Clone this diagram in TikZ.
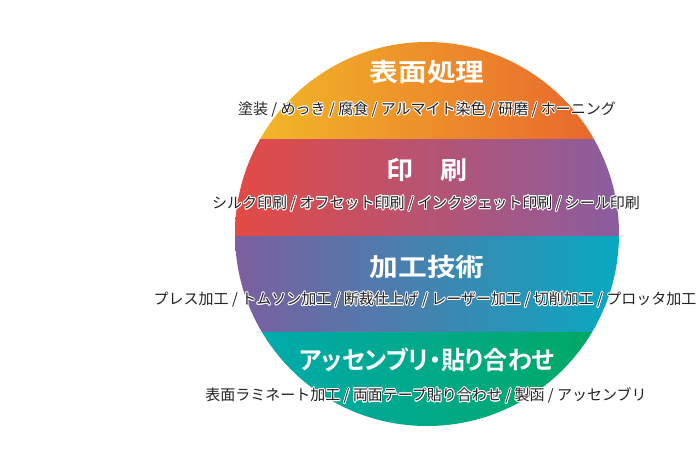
\documentclass[tikz,border=0pt]{standalone}
\usepackage{graphicx}
\usepackage{fontspec}
\usepackage{contour}
\newfontfamily\jpfont{Noto Sans CJK JP}
\newfontfamily\jptitle{Noto Sans CJK JP Bold}[RawFeature=+palt]
\contourlength{0.8pt}
\contournumber{16}

\definecolor{surfL}{HTML}{F2BC26}
\definecolor{surfR}{HTML}{E8622E}
\definecolor{prntL}{HTML}{E34A45}
\definecolor{prntM}{HTML}{C43B88}
\definecolor{prntR}{HTML}{8A5DA0}
\definecolor{procL}{HTML}{7D5E9F}
\definecolor{procR}{HTML}{08A9C1}
\definecolor{asmbL}{HTML}{02AAB2}
\definecolor{asmbR}{HTML}{00A85E}
\definecolor{itemgray}{HTML}{222222}

\begin{document}
\begin{tikzpicture}[
		x=1pt, y=-1pt,
		every node/.style={inner sep=0pt},
		title/.style={text=white, font=\jptitle\fontsize{25}{25}\selectfont},
		items/.style={text=itemgray, font=\jpfont\fontsize{15}{15}\selectfont}
	]
  \useasboundingbox (0,0) rectangle (700,467);
  \coordinate (ctr) at (427,234);
  \begin{scope}
    \clip (ctr) circle (192pt);
    \shade [left color=surfL, right color=surfR] (235,40) rectangle (619,139);
    \shade [left color=prntL, middle color=prntM, right color=prntR] (235,139) rectangle (619,236);
    \shade [left color=procL, right color=procR] (235,236) rectangle (619,332);
    \shade [left color=asmbL, right color=asmbR] (235,332) rectangle (619,428);
  \end{scope}
  \node (surf_t) [title] at (427,72) {\scalebox{1.15}[1]{表面処理}};
  \node (surf_i) [items] at (427,110) {\contour{white}{塗装 / めっき / 腐食 / アルマイト染色 / 研磨 / ホーニング}};
  \node (prnt_t) [title] at (427,170) {\scalebox{1.08}[1]{印　刷}};
  \node (prnt_i) [items] at (426,204) {\contour{white}{シルク印刷 / オフセット印刷 / インクジェット印刷 / シール印刷}};
  \node (proc_t) [title] at (427,267) {\scalebox{1.15}[1]{加工技術}};
  \node (proc_i) [items] at (425,300) {\contour{white}{プレス加工 / トムソン加工 / 断裁仕上げ / レーザー加工 / 切削加工 / プロッタ加工}};
  \node (asmb_t) [title] at (427,360) {\scalebox{0.96}[1]{アッセンブリ・貼り合わせ}};
  \node (asmb_i) [items] at (426,396) {\contour{white}{表面ラミネート加工 / 両面テープ貼り合わせ / 製函 / アッセンブリ}};
\end{tikzpicture}
\end{document}
